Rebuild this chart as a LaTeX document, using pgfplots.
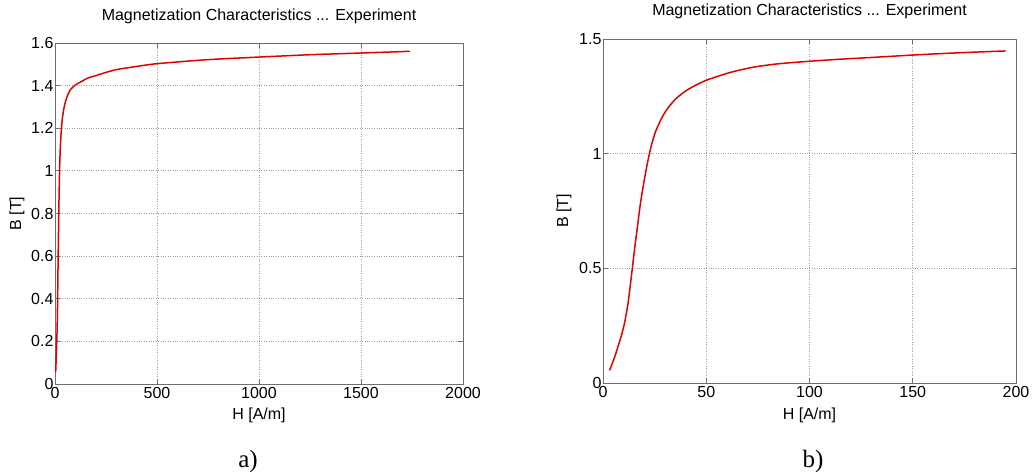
\documentclass[border=0pt]{standalone}
\usepackage{fontspec}
\setmainfont{Liberation Sans}
\newfontfamily\seriffont{Liberation Serif}
\usepackage{pgfplots}
\usepackage{pgfplotstable}
\pgfplotsset{compat=1.18}

\pgfplotstableread{
H B
3.2 0.055
5.5 0.11
7.3 0.16
9.0 0.21
10.5 0.265
12.0 0.34
13.0 0.41
14.2 0.50
15.5 0.60
16.8 0.69
18.0 0.775
19.5 0.86
21.0 0.935
22.0 0.98
23.4 1.035
25.2 1.09
27.6 1.14
30.0 1.18
32.4 1.21
35.0 1.237
37.3 1.255
40.0 1.273
43.7 1.293
50 1.32
60 1.350
66.4 1.365
74 1.379
85 1.392
100 1.403
115 1.412
131 1.42
150 1.43
170 1.439
195 1.448
}\lowdata

\pgfplotstableread{
H B
3.2 0.055
5.5 0.11
7.3 0.16
9.0 0.21
10.5 0.265
12.0 0.34
13.0 0.41
14.2 0.50
15.5 0.60
16.8 0.69
18.0 0.775
19.5 0.86
21.0 0.935
22.0 0.98
23.4 1.035
25.2 1.09
27.6 1.14
30.0 1.18
32.4 1.21
35.0 1.237
37.3 1.255
40.0 1.273
43.7 1.293
50 1.32
60 1.350
74 1.379
100 1.403
131 1.42
160 1.435
200 1.447
250 1.462
300 1.475
400 1.49
500 1.503
750 1.522
1000 1.534
1250 1.545
1500 1.553
1740 1.561
}\fulldata

\definecolor{boxgray}{RGB}{110,110,110}
\pgfplotsset{mystyle/.style={
  scale only axis,
  axis line style={draw=boxgray, line width=0.9pt},
  grid=major,
  grid style={dotted, gray!75, line width=0.8pt},
  tick align=inside,
  major tick length=5pt,
  tick style={boxgray, line width=0.8pt},
  every tick label/.append style={font=\fontsize{16}{18}\selectfont},
  label style={font=\fontsize{16}{18}\selectfont},
  title style={font=\fontsize{16}{18}\selectfont},
  /pgf/number format/assume math mode=true,
  /pgf/number format/1000 sep={},
  scaled ticks=false,
  yticklabel style={xshift=2pt},
}}

\begin{document}
\begin{tikzpicture}
\path[use as bounding box] (0pt,0pt) rectangle (1032pt,475pt);

\begin{axis}[mystyle,
  at={(55pt,91pt)}, anchor=south west,
  width=408pt, height=341pt,
  xmin=0, xmax=2000, ymin=0, ymax=1.6,
  xtick={0,500,1000,1500,2000},
  ytick={0,0.2,0.4,0.6,0.8,1,1.2,1.4,1.6},
  title={Magnetization Characteristics ... Experiment},
  title style={at={(0.5,1)}, anchor=center, yshift=21pt},
  xlabel={H [A/m]},
  xlabel style={at={(0.5,0)}, anchor=center, yshift=-31pt},
  ylabel={B [T]},
  ylabel style={at={(-0.0931,0.5)}, anchor=center},
]
\addplot[red!90!black, line width=1.5pt, smooth, tension=0.4] table[x=H,y=B] {\fulldata};
\end{axis}

\begin{axis}[mystyle,
  at={(603pt,92pt)}, anchor=south west,
  width=413pt, height=344pt,
  xmin=0, xmax=200, ymin=0, ymax=1.5,
  xtick={0,50,100,150,200},
  ytick={0,0.5,1,1.5},
  title={Magnetization Characteristics ... Experiment},
  title style={at={(0.5,1)}, anchor=center, yshift=22pt},
  xlabel={H [A/m]},
  xlabel style={at={(0.5,0)}, anchor=center, yshift=-32pt},
  ylabel={B [T]},
  ylabel style={at={(-0.0944,0.5)}, anchor=center},
]
\addplot[red!90!black, line width=1.5pt, smooth, tension=0.5] table[x=H,y=B] {\lowdata};
\end{axis}

\node[font=\seriffont\fontsize{25}{28}\selectfont] at (248pt,14pt) {a)};
\node[font=\seriffont\fontsize{25}{28}\selectfont] at (813pt,14pt) {b)};
\end{tikzpicture}
\end{document}
